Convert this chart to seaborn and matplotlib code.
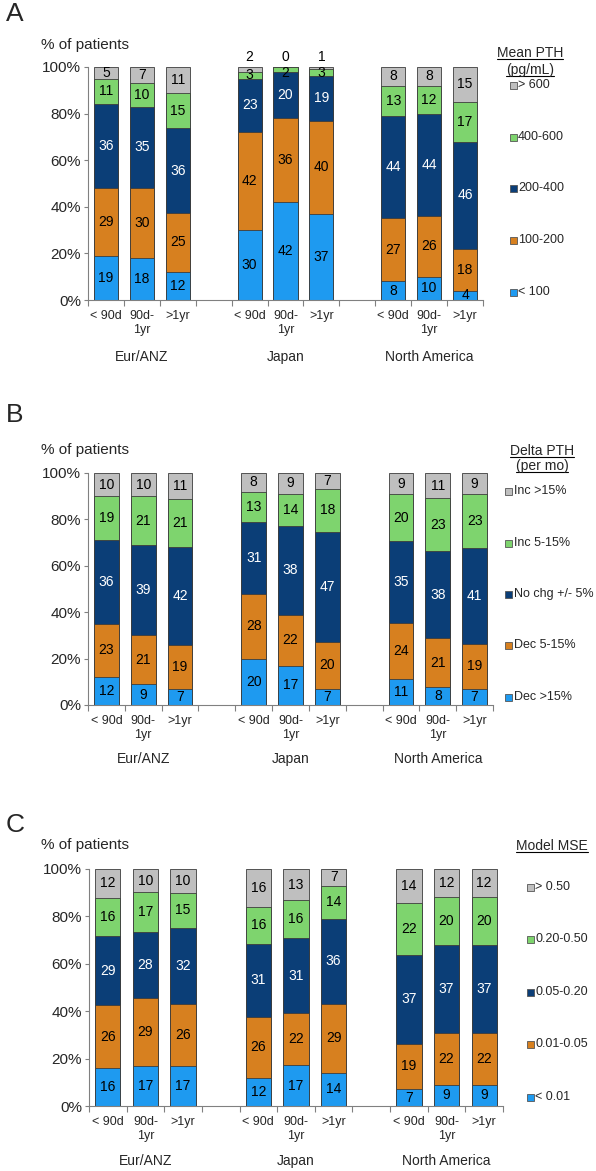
import numpy as np
import pandas as pd
import seaborn as sns
import matplotlib.pyplot as plt
from matplotlib.patches import Rectangle
from matplotlib.lines import Line2D

regions = ["Eur/ANZ", "Japan", "North America"]
periods = ["< 90d", "90d-\n1yr", ">1yr"]

# one row per bar (region x period), values from bottom to top
pth_levels = ["< 100", "100-200", "200-400", "400-600", "> 600"]
pth_values = [
    [19, 29, 36, 11, 5], [18, 30, 35, 10, 7], [12, 25, 36, 15, 11],
    [30, 42, 23, 3, 2], [42, 36, 20, 2, 0], [37, 40, 19, 3, 1],
    [8, 27, 44, 13, 8], [10, 26, 44, 12, 8], [4, 18, 46, 17, 15],
]

delta_levels = ["Dec >15%", "Dec 5-15%", "No chg +/- 5%", "Inc 5-15%", "Inc >15%"]
delta_values = [
    [12, 23, 36, 19, 10], [9, 21, 39, 21, 10], [7, 19, 42, 21, 11],
    [20, 28, 31, 13, 8], [17, 22, 38, 14, 9], [7, 20, 47, 18, 7],
    [11, 24, 35, 20, 9], [8, 21, 38, 23, 11], [7, 19, 41, 23, 9],
]

mse_levels = ["< 0.01", "0.01-0.05", "0.05-0.20", "0.20-0.50", "> 0.50"]
mse_values = [
    [16, 26, 29, 16, 12], [17, 29, 28, 17, 10], [17, 26, 32, 15, 10],
    [12, 26, 31, 16, 16], [17, 22, 31, 16, 13], [14, 29, 36, 14, 7],
    [7, 19, 37, 22, 14], [9, 22, 37, 20, 12], [9, 22, 37, 20, 12],
]

colors = ["#1e9af0", "#d7801f", "#0b3e77", "#7ed46e", "#bfbfbf"]
text_colors = ["black", "black", "white", "black", "black"]

W, H = 596, 1171
fx = lambda px: px / W
fy = lambda py: 1 - py / H

panels = [
    dict(letter="A", title=["Mean PTH", "(pg/mL)"], levels=pth_levels, values=pth_values,
         box=(88, 67, 483, 300), letter_y=14, ylab_y=45,
         title_x=530, title_y=[53, 70], sq_x=510, txt_x=518,
         leg_y=[292, 240, 188, 137, 85], sub=[13, 29], grp=57),
    dict(letter="B", title=["Delta PTH", "(per mo)"], levels=delta_levels, values=delta_values,
         box=(88, 473, 493, 705), letter_y=415, ylab_y=450,
         title_x=542, title_y=[451, 466], sq_x=505, txt_x=514,
         leg_y=[697, 645, 594, 543, 491], sub=[16, 30], grp=54),
    dict(letter="C", title=["Model MSE"], levels=mse_levels, values=mse_values,
         box=(89, 869, 503, 1106), letter_y=825, ylab_y=845,
         title_x=552, title_y=[846], sq_x=527, txt_x=535,
         leg_y=[1097, 1044, 992, 939, 887], sub=[14, 31], grp=55),
]

slot_order = []
for gi, reg in enumerate(regions):
    slot_order += [f"{reg}|{p}" for p in range(3)]
    if gi < 2:
        slot_order.append(f"gap{gi}")
bar_slots = [s for s in slot_order if not s.startswith("gap")]
bar_pos = [slot_order.index(s) for s in bar_slots]

sns.set_theme(style="ticks")
plt.rcParams["font.family"] = ["Liberation Sans", "DejaVu Sans"]

fig = plt.figure(figsize=(W / 100, H / 100), dpi=100)
titles = []

for p in panels:
    l, t, r, b = p["box"]
    ax = fig.add_axes([fx(l), fy(b), fx(r) - fx(l), fy(t) - fy(b)])

    vals = np.array(p["values"], dtype=float)
    cum = np.cumsum(vals, axis=1) / vals.sum(axis=1, keepdims=True) * 100
    rows = []
    for i, s in enumerate(bar_slots):
        for k in range(5):
            rows.append(dict(slot=s, layer=k, top=cum[i, k]))
    df = pd.DataFrame(rows)

    # overlapping cumulative bars, drawn from the top layer down
    for k in range(4, -1, -1):
        sns.barplot(data=df[df.layer == k], x="slot", y="top", order=slot_order,
                    color=colors[k], saturation=1, width=0.67, errorbar=None,
                    edgecolor="#3c3c3c", linewidth=0.6, ax=ax)

    for i, x in enumerate(bar_pos):
        lo = 0
        for k in range(5):
            hi = cum[i, k]
            y = (lo + hi) / 2
            if k == 4 and vals[i, k] <= 2:
                y = 104.5   # tiny top segment: label sits above the bar
            elif k == 3 and vals[i, k] <= 2:
                y -= 1.5
            ax.text(x, y, f"{int(vals[i, k])}", ha="center", va="center",
                    fontsize=10, color=text_colors[k], clip_on=False)
            lo = hi

    ax.set_xlim(-0.5, 10.5)
    ax.set_ylim(0, 100)
    ax.set_xlabel("")
    ax.set_ylabel("")
    ax.set_xticks(np.arange(-0.5, 11, 1), labels=[""] * 12)
    ax.set_xticks(bar_pos, labels=periods * 3, minor=True)
    ax.set_yticks(range(0, 101, 20), labels=[f"{v}%" for v in range(0, 101, 20)])
    ax.tick_params(axis="x", which="major", length=4, width=0.8, color="#808080")
    ax.tick_params(axis="x", which="minor", length=0, pad=7, labelsize=9)
    ax.tick_params(axis="y", length=3, width=0.8, color="#808080", pad=2, labelsize=11)
    for lab in ax.get_xticklabels(minor=True):
        lab.set_linespacing(1.25)
    sns.despine(ax=ax)
    for side in ["left", "bottom"]:
        ax.spines[side].set_color("#808080")
        ax.spines[side].set_linewidth(0.8)

    for gi, reg in enumerate(regions):
        ax.annotate(reg, xy=(bar_pos[gi * 3 + 1], 0), xycoords=("data", "axes fraction"),
                    xytext=(0, -p["grp"]), textcoords="offset pixels",
                    ha="center", va="center", fontsize=10)

    fig.text(fx(6), fy(p["letter_y"]), p["letter"], fontsize=19, ha="left", va="center")
    fig.text(fx(41), fy(p["ylab_y"]), "% of patients", fontsize=11, ha="left", va="center")

    for line, ty in zip(p["title"], p["title_y"]):
        titles.append(fig.text(fx(p["title_x"]), fy(ty), line, fontsize=10,
                               ha="center", va="center"))

    for k in range(5):
        ly = p["leg_y"][k]
        fig.add_artist(Rectangle((fx(p["sq_x"]), fy(ly + 3.5)), 7 / W, 7 / H,
                                 facecolor=colors[k], edgecolor="#555555",
                                 linewidth=0.6, transform=fig.transFigure))
        fig.text(fx(p["txt_x"]), fy(ly), p["levels"][k], fontsize=9,
                 ha="left", va="center")

# underline the legend titles
fig.canvas.draw()
renderer = fig.canvas.get_renderer()
for t in titles:
    bb = t.get_window_extent(renderer)
    y = (bb.y0 + 1) / fig.bbox.height
    fig.add_artist(Line2D([bb.x0 / fig.bbox.width, bb.x1 / fig.bbox.width], [y, y],
                          color="black", linewidth=0.8, transform=fig.transFigure))

fig.savefig("out.png", dpi=100)
